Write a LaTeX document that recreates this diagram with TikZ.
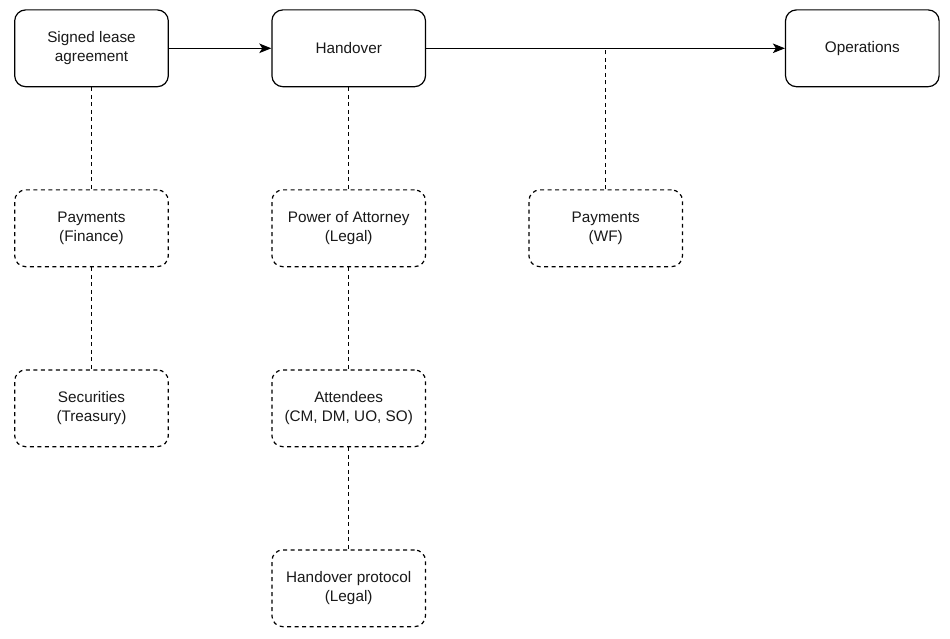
\documentclass[tikz,border=0pt]{standalone}
\usepackage{fontspec}
\setmainfont{Liberation Sans}
\usetikzlibrary{arrows.meta}
\begin{document}
\begin{tikzpicture}[x=1pt,y=-1pt,
  box/.style={draw, line width=1.2pt, rounded corners=11pt, minimum width=153.6pt, minimum height=76.8pt, align=center, inner sep=2pt, font=\fontsize{15.3pt}{18.6pt}\selectfont, text=black!90},
  dbox/.style={box, dash pattern=on 3.9pt off 3.6pt},
  dline/.style={line width=1.2pt, dash pattern=on 3.9pt off 3.6pt},
  arr/.style={line width=1.2pt, -{Stealth[length=12pt,width=9.5pt,inset=3pt]}}
]
\useasboundingbox (0,0) rectangle (950,639);
\fill[white] (0,0) rectangle (950,639);
\node[box] (sla) at (91.5,48.3) {Signed lease\\agreement};
\node[box] (ho) at (348.7,48.3) {Handover};
\node[box] (op) at (862.3,48.3) {Operations};
\node[dbox] (pf) at (91.5,228.3) {Payments\\(Finance)};
\node[dbox] (st) at (91.5,408.3) {Securities\\(Treasury)};
\node[dbox] (poa) at (348.7,228.3) {Power of Attorney\\(Legal)};
\node[dbox] (att) at (348.7,408.3) {Attendees\\(CM, DM, UO, SO)};
\node[dbox] (hp) at (348.7,588.3) {Handover protocol\\(Legal)};
\node[dbox] (pwf) at (605.7,228.3) {Payments\\(WF)};
\coordinate (j) at (pwf.north |- ho.east);
\draw[arr] (sla) -- (ho);
\draw[arr] (ho) -- (op);
\draw[dline] (sla) -- (pf);
\draw[dline] (pf) -- (st);
\draw[dline] (ho) -- (poa);
\draw[dline] (poa) -- (att);
\draw[dline] (att) -- (hp);
\draw[dline] (pwf) -- (j);
\end{tikzpicture}
\end{document}
